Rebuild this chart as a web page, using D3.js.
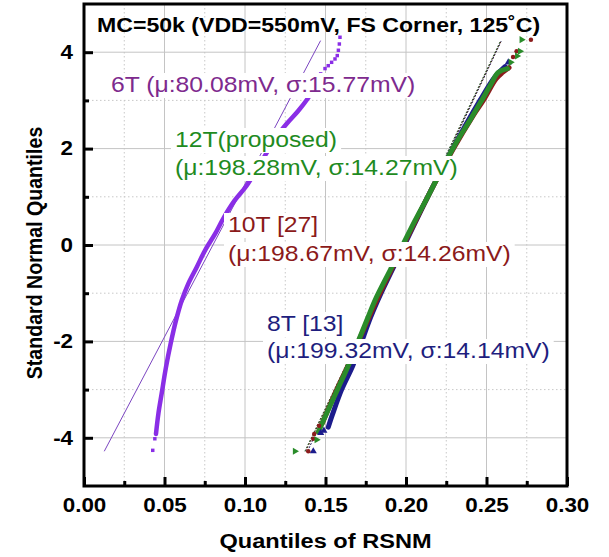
<!DOCTYPE html>
<html>
<head>
<meta charset="utf-8">
<script src="https://cdn.jsdelivr.net/npm/d3@7"></script>
<style>
  body { margin: 0; background: #fff; }
  svg { display: block; }
  text { font-family: "Liberation Sans", Arial, Helvetica, sans-serif; }
</style>
</head>
<body>
<svg id="chart" width="609" height="557"></svg>
<script>
// ---- axis ticks ----
const xTickValues = [0, 0.05, 0.10, 0.15, 0.20, 0.25, 0.30];
const xMinorTicks = [0.025, 0.075, 0.125, 0.175, 0.225, 0.275];
const yTickValues = [-4, -2, 0, 2, 4];
const yMinorTicks = [-3, -1, 1, 3];

// ---- normal fits quoted in the labels (volts) ----
const seriesNames = ["6T", "12T(proposed)", "10T [27]", "8T [13]"];
const meansV  = [0.08008, 0.19828, 0.19867, 0.19932];
const sigmasV = [0.01577, 0.01427, 0.01426, 0.01414];
const fitZRange = [-4.28, 4.24];

// ---- sample quantiles: [RSNM quantile (V), standard normal quantile] ----
const band6T = [
  [0.0447,-3.92],[0.0462,-3.50],[0.0482,-3.09],[0.0509,-2.54],[0.0538,-2.05],
  [0.0571,-1.57],[0.0607,-1.15],[0.0648,-0.80],[0.0700,-0.46],[0.0752,-0.11],
  [0.0814,0.23],[0.0870,0.58],[0.0935,0.92],[0.1010,1.23],[0.1070,1.55],
  [0.1125,1.86],[0.1190,2.22],[0.1260,2.52],[0.1330,2.78],[0.1390,3.04],
  [0.1440,3.30]
];
const tail6T = [
  [0.0427,-4.26],[0.0440,-4.02],
  [0.1470,3.55],[0.1497,3.66],[0.1517,3.72],[0.1538,3.79],[0.1559,3.86],
  [0.1573,3.93],[0.1580,4.04],[0.1586,4.17],[0.1590,4.31]
];

const band8T = [
  [0.1517,-3.78],[0.1545,-3.50],[0.1600,-3.00],[0.1670,-2.50],[0.1725,-2.00],
  [0.1780,-1.50],[0.1845,-1.00],[0.1990,0.00],[0.2135,1.00],[0.2290,2.00],
  [0.2460,3.00],[0.2555,3.50],[0.2615,3.70]
];
const tail8T = [[0.1424,-4.28],[0.1470,-3.90],[0.1490,-3.85],[0.2635,3.79]];

const band10T = [
  [0.1480,-3.70],[0.1570,-3.00],[0.1640,-2.50],[0.1705,-2.00],[0.1838,-1.00],
  [0.1985,0.00],[0.2135,1.00],[0.2295,2.00],[0.2420,2.70],[0.2480,3.00],
  [0.2560,3.45],[0.2600,3.58],[0.2640,3.68]
];
const tail10T = [[0.1393,-4.28],[0.1424,-4.02],[0.1430,-3.92],[0.1460,-3.75],
  [0.2665,3.90],[0.2687,4.02],[0.2776,4.26]];

const band12T = [
  [0.1455,-3.88],[0.1506,-3.50],[0.1574,-3.00],[0.1642,-2.50],[0.1703,-2.00],
  [0.1764,-1.50],[0.1807,-1.15],[0.1905,-0.50],[0.1980,0.00],[0.2055,0.50],
  [0.2135,1.00],[0.2212,1.50],[0.2273,1.89],[0.2325,2.20],[0.2396,2.58],
  [0.2470,3.00],[0.2530,3.35],[0.2573,3.58],[0.2630,3.66]
];
const tail12T = [[0.1310,-4.28],[0.1445,-4.04],[0.2650,3.79],[0.2690,3.92],
  [0.2708,4.02],[0.2718,4.26]];

const titleText = "MC=50k (VDD=550mV, FS Corner, 125˚C)";
const labelLines = [
  ["6T (μ:80.08mV, σ:15.77mV)"],
  ["12T(proposed)", "(μ:198.28mV, σ:14.27mV)"],
  ["10T [27]", "(μ:198.67mV, σ:14.26mV)"],
  ["8T [13]", "(μ:199.32mV, σ:14.14mV)"]
];

// ---- layout / style ----
const SX = 1.15;                       // horizontal glyph stretch
const plot = { left: 84, right: 567, top: 4, bottom: 486 };
const markColors  = ["#8a2ee6", "#2a8c2a", "#8b1c1c", "#1c1c8c"];
const textColors  = ["#7e2a8e", "#1f8b1f", "#8b1a1a", "#1e1e7e"];
const fitColors   = ["#7b45c0", "#2a5a2a", "#5a1a1a", "#1a1a5a"];
const labelPos = [
  { x: 111, y: [92] },
  { x: 175, y: [147, 175] },
  { x: 228, y: [232, 261] },
  { x: 267, y: [331, 358] }
];

const svg = d3.select("#chart");
const x = d3.scaleLinear().domain([0, 0.30]).range([plot.left, plot.right]);
const y = d3.scaleLinear().domain([-5, 5]).range([plot.bottom, plot.top]);

// grid
const grid = svg.append("g");
grid.selectAll("line.gx").data(xTickValues.slice(1, -1)).join("line")
  .attr("x1", d => x(d)).attr("x2", d => x(d)).attr("y1", plot.top).attr("y2", plot.bottom)
  .attr("stroke", "#c4c4c4").attr("stroke-width", 1);
grid.selectAll("line.gxm").data(xMinorTicks).join("line")
  .attr("x1", d => x(d)).attr("x2", d => x(d)).attr("y1", plot.top).attr("y2", plot.bottom)
  .attr("stroke", "#c8c8c8").attr("stroke-width", 1).attr("stroke-dasharray", "1.5,2.5");
grid.selectAll("line.gy").data(yTickValues).join("line")
  .attr("y1", d => y(d)).attr("y2", d => y(d)).attr("x1", plot.left).attr("x2", plot.right)
  .attr("stroke", "#c4c4c4").attr("stroke-width", 1);
grid.selectAll("line.gym").data(yMinorTicks).join("line")
  .attr("y1", d => y(d)).attr("y2", d => y(d)).attr("x1", plot.left).attr("x2", plot.right)
  .attr("stroke", "#c8c8c8").attr("stroke-width", 1).attr("stroke-dasharray", "1.5,2.5");

// normal fit lines
const fits = svg.append("g");
[3, 2, 1, 0].forEach(i => {
  const pts = fitZRange.map(z => [meansV[i] + sigmasV[i] * z, z]);
  fits.append("line")
    .attr("x1", x(pts[0][0])).attr("y1", y(pts[0][1]))
    .attr("x2", x(pts[1][0])).attr("y2", y(pts[1][1]))
    .attr("stroke", fitColors[i]).attr("stroke-width", 1)
    .attr("stroke-dasharray", i === 0 ? null : "2,1.5");
});

// dense quantile bands
const line = d3.line().x(d => x(d[0])).y(d => y(d[1])).curve(d3.curveCatmullRom.alpha(0.5));
const bands = [
  { data: band8T, c: markColors[3], w: 5 },
  { data: band10T, c: markColors[2], w: 5 },
  { data: band12T, c: markColors[1], w: 5 },
  { data: band6T, c: markColors[0], w: 4.5 }
];
bands.forEach(b => {
  svg.append("path").datum(b.data).attr("d", line)
    .attr("fill", "none").attr("stroke", b.c).attr("stroke-width", b.w)
    .attr("stroke-linecap", "round").attr("stroke-linejoin", "round");
});

// sparse tail points
const tails = [
  { data: tail8T, c: markColors[3], sym: d3.symbolTriangle, size: 22, rot: 0 },
  { data: tail10T, c: markColors[2], sym: d3.symbolCircle, size: 16, rot: 0 },
  { data: tail12T, c: markColors[1], sym: d3.symbolTriangle, size: 22, rot: 90 },
  { data: tail6T, c: markColors[0], sym: d3.symbolSquare, size: 12, rot: 0 }
];
tails.forEach(t => {
  svg.append("g").selectAll("path").data(t.data).join("path")
    .attr("d", d3.symbol().type(t.sym).size(t.size))
    .attr("transform", d => `translate(${x(d[0])},${y(d[1])}) rotate(${t.rot})`)
    .attr("fill", t.c);
});

// series labels on white boxes
const labels = svg.append("g");
labelLines.forEach((lines, i) => {
  lines.forEach((str, j) => {
    const lx = labelPos[i].x, ly = labelPos[i].y[j];
    const bg = labels.append("rect").attr("fill", "#fff");
    const t = labels.append("text")
      .attr("transform", `translate(${lx},${ly}) scale(${SX},1)`)
      .attr("font-size", 21.5).attr("fill", textColors[i]).text(str);
    const w = t.node().getComputedTextLength() * SX;
    bg.attr("x", lx - 4).attr("y", ly - 19).attr("width", w + 8).attr("height", 25);
  });
});

// title
svg.append("text")
  .attr("transform", `translate(97,32) scale(1.1,1)`)
  .attr("font-size", 21).attr("font-weight", "bold").attr("fill", "#000")
  .text(titleText);

// frame
svg.append("rect")
  .attr("x", plot.left).attr("y", plot.top)
  .attr("width", plot.right - plot.left).attr("height", plot.bottom - plot.top)
  .attr("fill", "none").attr("stroke", "#000").attr("stroke-width", 3);

// axes with inward ticks
function styleAxis(g) {
  g.select(".domain").remove();
  g.selectAll(".tick line").attr("stroke", "#000").attr("stroke-width", 3);
}
function styleLabels(g) {
  g.selectAll(".tick text")
    .attr("font-size", 19.5).attr("font-weight", "bold").attr("fill", "#000")
    .attr("font-family", "Liberation Sans, Arial, sans-serif")
    .attr("transform", `scale(${SX},1)`);
}
svg.append("g").attr("transform", `translate(0,${plot.bottom})`)
  .call(d3.axisBottom(x).tickValues(xMinorTicks).tickSizeInner(-5).tickSizeOuter(0).tickFormat(""))
  .call(styleAxis);
svg.append("g").attr("transform", `translate(0,${plot.bottom})`)
  .call(d3.axisBottom(x).tickValues(xTickValues).tickSizeInner(-9).tickSizeOuter(0)
    .tickPadding(12).tickFormat(d3.format(".2f")))
  .call(styleAxis).call(styleLabels);
svg.append("g").attr("transform", `translate(${plot.left},0)`)
  .call(d3.axisLeft(y).tickValues(yMinorTicks).tickSizeInner(-5).tickSizeOuter(0).tickFormat(""))
  .call(styleAxis);
svg.append("g").attr("transform", `translate(${plot.left},0)`)
  .call(d3.axisLeft(y).tickValues(yTickValues).tickSizeInner(-9).tickSizeOuter(0)
    .tickPadding(9.5).tickFormat(d => String(d)))
  .call(styleAxis).call(styleLabels);

// axis titles
svg.append("text")
  .attr("transform", `translate(${(plot.left + plot.right) / 2},548) scale(${SX},1)`)
  .attr("text-anchor", "middle").attr("font-size", 20.5).attr("font-weight", "bold")
  .text("Quantiles of RSNM");
svg.append("text")
  .attr("transform", `translate(42,${(plot.top + plot.bottom) / 2 + 8}) scale(${SX},1) rotate(-90)`)
  .attr("text-anchor", "middle").attr("font-size", 19.6).attr("font-weight", "bold")
  .text("Standard Normal Quantiles");
</script>
</body>
</html>
